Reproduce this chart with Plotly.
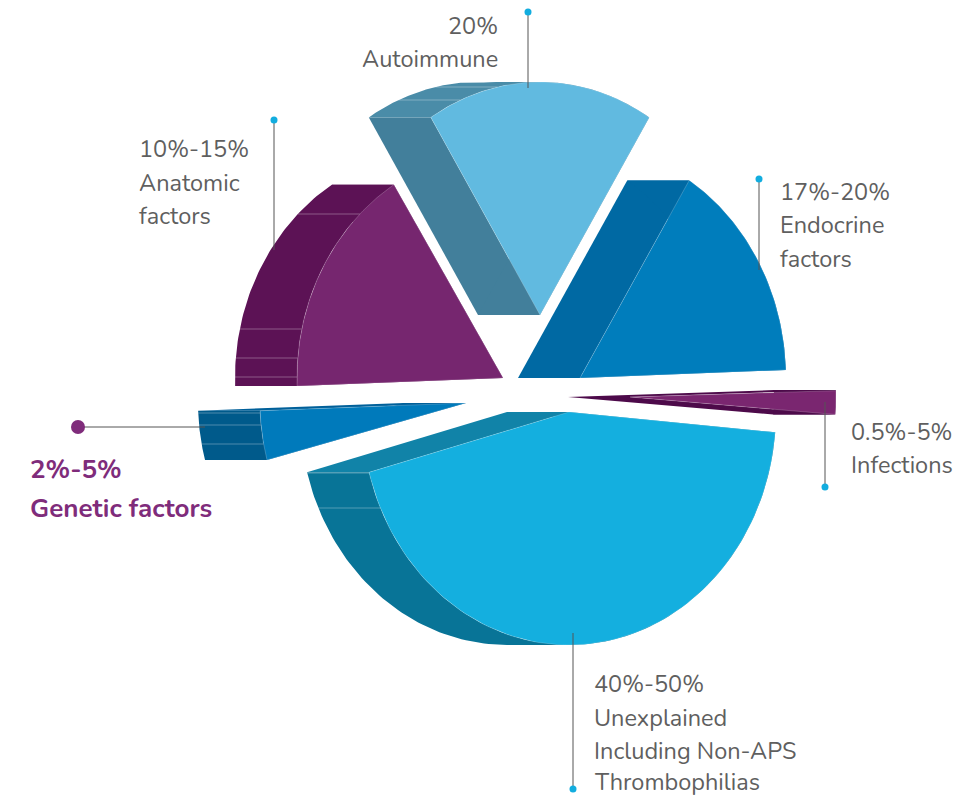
import numpy as np
import plotly.graph_objects as go

# ---- data ----
categories = ["Autoimmune", "Endocrine factors", "Infections",
              "Unexplained Including Non-APS Thrombophilias", "Genetic factors", "Anatomic factors"]
shares = [17.78, 15.56, 1.94, 44.44, 3.61, 16.67]
start_angle = -32.0

# ---- drawing layout (one entry per slice) ----
apex_x = [540, 580, 630, 569, 466, 503]
apex_y = [315, 378, 397, 412, 403, 378]
radius_x = [206, 206, 206, 207, 206, 206]
radius_y = [233, 233, 200, 233, 220, 228]
DEPTH = 62
face_colors = ["#61BAE0", "#007DBC", "#7A2670", "#14AFDF", "#007ABB", "#76266F"]
edge_colors = ["#427F9B", "#0069A3", "#4D0A4A", "#1183A8", "#00609A", "#5C1255"]
rim_colors = ["#4A8CA8", "#0069A3", "#4D0A4A", "#087497", "#005A8B", "#5C1255"]
band_ys = [[87, 100], [], [], [473, 508], [413, 425, 444], [214, 329, 358, 377]]

label_lines = [
    (["20%", "Autoimmune"], 500, [26, 59], "right"),
    (["17%-20%", "Endocrine", "factors"], 777.5, [192, 225, 259], "left"),
    (["0.5%-5%", "Infections"], 848.5, [432, 465], "left"),
    (["40%-50%", "Unexplained", "Including Non-APS", "Thrombophilias"], 591.5, [684, 718, 751, 782], "left"),
    (["10%-15%", "Anatomic", "factors"], 136.5, [149, 183, 216], "left"),
]
genetic_lines = (["2%-5%", "Genetic factors"], 27.5, [469, 508])
leader_x = [[528, 528], [759, 759], [825, 825], [573, 573], [274, 274]]
leader_y = [[12, 88], [179, 270], [487, 402], [789, 633], [120, 250]]
genetic_leader = ([78, 205], [427, 427])

FONT = "Nunito, Mulish, Lato, sans-serif"
TEXT = "#5F5F5F"
PURPLE = "#7F2C7B"
CYAN = "#12ADDF"
LEADER = "#555555"

fig = go.Figure()


def poly(xs, ys, color, line="rgba(0,0,0,0)", w=0):
    fig.add_trace(go.Scatter(x=list(xs), y=list(ys), mode="lines", fill="toself", fillcolor=color,
                             line=dict(color=line, width=w), hoverinfo="skip", showlegend=False))


edges = start_angle + np.cumsum([0] + shares) * 3.6
for i, name in enumerate(categories):
    cx, cy = apex_x[i], apex_y[i]
    rx, ry = radius_x[i], radius_y[i]
    lo, hi = edges[i], edges[i + 1]
    th = np.radians(np.linspace(lo, hi, 90))
    ax = cx + rx * np.sin(th)
    ay = cy - ry * np.cos(th)
    # radial walls
    for j in (0, -1):
        poly([cx, ax[j], ax[j] - DEPTH, cx - DEPTH, cx], [cy, ay[j], ay[j], cy, cy], edge_colors[i])
    # rim: swept arc, split where the arc turns (top and bottom of the ellipse)
    cuts = [lo] + [a for a in (0, 180, 360) if lo < a < hi] + [hi]
    for a, b in zip(cuts[:-1], cuts[1:]):
        t = np.radians(np.linspace(a, b, 60))
        px = cx + rx * np.sin(t)
        py = cy - ry * np.cos(t)
        poly(np.r_[px, (px - DEPTH)[::-1], px[0]], np.r_[py, py[::-1], py[0]], rim_colors[i])
    # highlight bands on the rim
    for y in band_ys[i]:
        t = np.arccos((cy - y) / ry)
        x = cx - rx * np.sin(t)
        fig.add_trace(go.Scatter(x=[x, x - DEPTH], y=[y, y], mode="lines",
                                 line=dict(color="rgba(255,255,255,0.3)", width=1),
                                 hoverinfo="skip", showlegend=False))
    # top face
    poly(np.r_[cx, ax, cx], np.r_[cy, ay, cy], face_colors[i], "rgba(255,255,255,0.2)", 1)

for lx, ly in zip(leader_x, leader_y):
    fig.add_trace(go.Scatter(x=lx, y=ly, mode="lines", line=dict(color=LEADER, width=1),
                             hoverinfo="skip", showlegend=False))
    fig.add_trace(go.Scatter(x=[lx[0]], y=[ly[0]], mode="markers",
                             marker=dict(color=CYAN, size=7), hoverinfo="skip", showlegend=False))
fig.add_trace(go.Scatter(x=genetic_leader[0], y=genetic_leader[1], mode="lines",
                         line=dict(color=LEADER, width=1), hoverinfo="skip", showlegend=False))
fig.add_trace(go.Scatter(x=[genetic_leader[0][0]], y=[genetic_leader[1][0]], mode="markers",
                         marker=dict(color=PURPLE, size=14), hoverinfo="skip", showlegend=False))

for lines, x, ys, anchor in label_lines:
    for s, y in zip(lines, ys):
        fig.add_annotation(x=x, y=y, text=s, showarrow=False, xanchor=anchor, yanchor="middle",
                           font=dict(family=FONT, size=23.5, color=TEXT))
for s, y in zip(genetic_lines[0], genetic_lines[2]):
    fig.add_annotation(x=genetic_lines[1], y=y, text=f"<b>{s}</b>", showarrow=False, xanchor="left",
                       yanchor="middle", font=dict(family=FONT, size=26, color=PURPLE))

fig.update_layout(width=975, height=797, margin=dict(l=0, r=0, t=0, b=0),
                  paper_bgcolor="white", plot_bgcolor="white", showlegend=False,
                  xaxis=dict(range=[0, 975], visible=False, fixedrange=True),
                  yaxis=dict(range=[797, 0], visible=False, fixedrange=True))
fig.write_html("out.html", config={"displayModeBar": False},
               post_script="document.body.style.margin='0';document.documentElement.style.overflow='hidden';")
